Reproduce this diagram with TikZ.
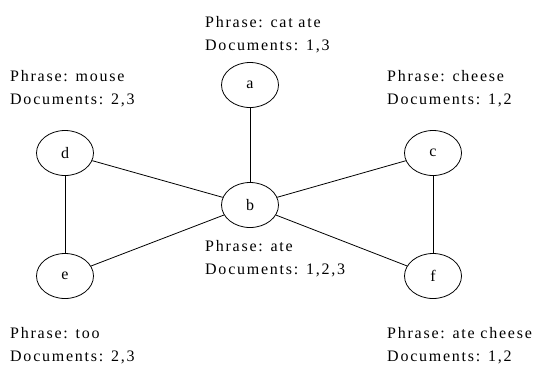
\documentclass[tikz,border=0pt]{standalone}
\usepackage{fontspec}
\setmainfont{Liberation Serif}[LetterSpace=11]
\usetikzlibrary{shapes.geometric}
\begin{document}
\begin{tikzpicture}[x=1pt,y=-1pt,
  vertex/.style={draw, ellipse, line width=0.8pt, minimum width=57pt, minimum height=45pt, inner sep=0pt, font=\fontsize{16}{20}\selectfont},
  info/.style={anchor=base west, inner sep=0pt, align=left, font=\fontsize{16}{23}\selectfont},
  edge/.style={line width=0.8pt}]
\useasboundingbox (0,0) rectangle (540,365);
\node[vertex] (a) at (250,85) {a};
\node[vertex] (b) at (250,205) {b};
\node[vertex] (c) at (433,153) {c};
\node[vertex] (d) at (65,153) {d};
\node[vertex] (e) at (65,276) {e};
\node[vertex] (f) at (433,276) {f};
\draw[edge] (a) -- (b);
\draw[edge] (d) -- (b);
\draw[edge] (b) -- (c);
\draw[edge] (b) -- (e);
\draw[edge] (b) -- (f);
\draw[edge] (d) -- (e);
\draw[edge] (c) -- (f);
\node[info] (la) at (205,50) {Phrase: cat ate\\Documents: 1,3};
\node[info] (ld) at (10,104) {Phrase: mouse\\Documents: 2,3};
\node[info] (lc) at (387,104) {Phrase: cheese\\Documents: 1,2};
\node[info] (lb) at (205,274) {Phrase: ate\\Documents: 1,2,3};
\node[info] (le) at (10,361) {Phrase: too\\Documents: 2,3};
\node[info] (lf) at (387,361) {Phrase: ate cheese\\Documents: 1,2};
\end{tikzpicture}
\end{document}
